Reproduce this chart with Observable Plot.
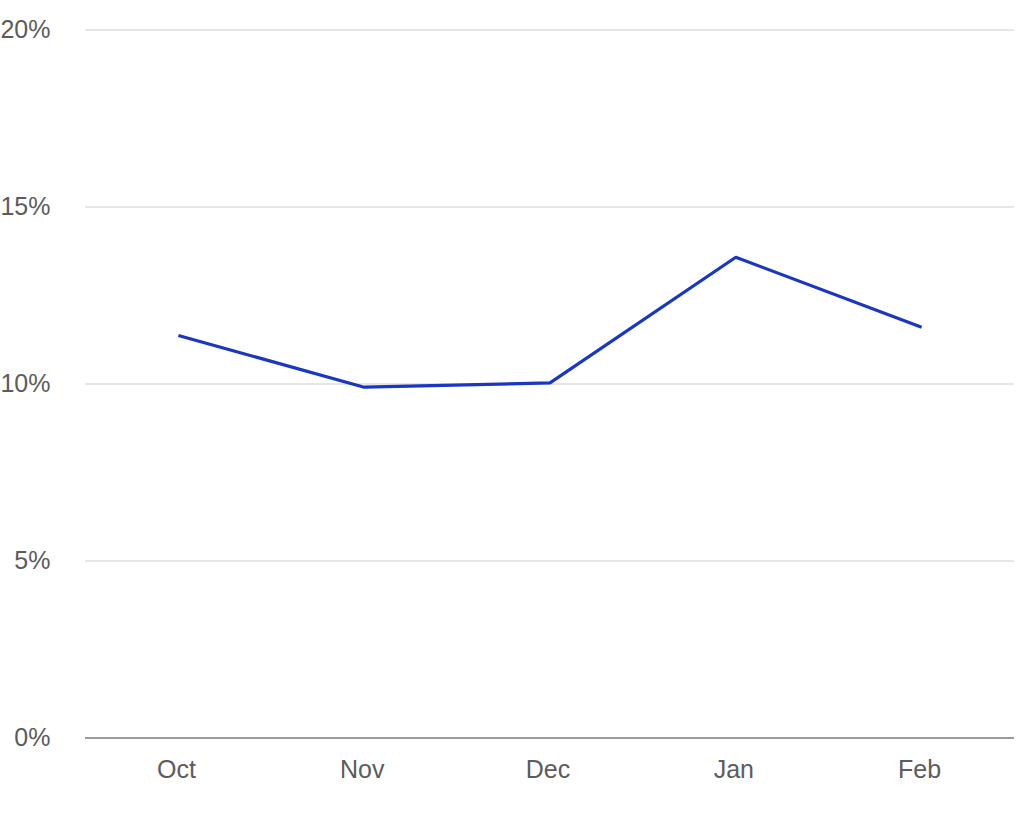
<!DOCTYPE html>
<html>
<head>
<meta charset="utf-8">
<script src="https://cdn.jsdelivr.net/npm/d3@7"></script>
<script src="https://cdn.jsdelivr.net/npm/@observablehq/plot@0.6"></script>
<style>
  html, body { margin: 0; padding: 0; background: #fff; }
  #chart svg { display: block; }
</style>
</head>
<body>
<div id="chart"></div>
<script>
const months = ["Oct", "Nov", "Dec", "Jan", "Feb"];
const values = [11.37, 9.91, 10.03, 13.58, 11.60];
const yTicks = [0, 5, 10, 15, 20];

const data = months.map((m, i) => ({month: m, value: values[i]}));

const chart = Plot.plot({
  width: 1016,
  height: 814,
  marginLeft: 85,
  marginRight: 2,
  marginTop: 29.5,
  marginBottom: 76.5,
  style: {fontFamily: "Liberation Sans, Arial, sans-serif", fontSize: "25px", color: "#5c5c5c", background: "#fff"},
  x: {type: "point", domain: months, padding: 0.5, round: false, label: null},
  y: {domain: [0, 20], label: null},
  marks: [
    Plot.ruleY(yTicks.filter(d => d > 0), {stroke: "#e6e6e6", strokeWidth: 2}),
    Plot.ruleY([0], {stroke: "#9e9a96", strokeWidth: 2}),
    Plot.axisY(yTicks, {tickSize: 0, tickPadding: 35, tickFormat: d => d + "%", label: null, fontSize: 25, fill: "#5c5c5c"}),
    Plot.axisX(months, {tickSize: 0, tickPadding: 22, label: null, fontSize: 25, fill: "#5c5c5c", dx: -2}),
    Plot.line(data, {x: "month", y: "value", stroke: "#1a36c4", strokeWidth: 3.2, strokeLinejoin: "miter", strokeLinecap: "butt"})
  ]
});
document.getElementById("chart").appendChild(chart);
</script>
</body>
</html>
